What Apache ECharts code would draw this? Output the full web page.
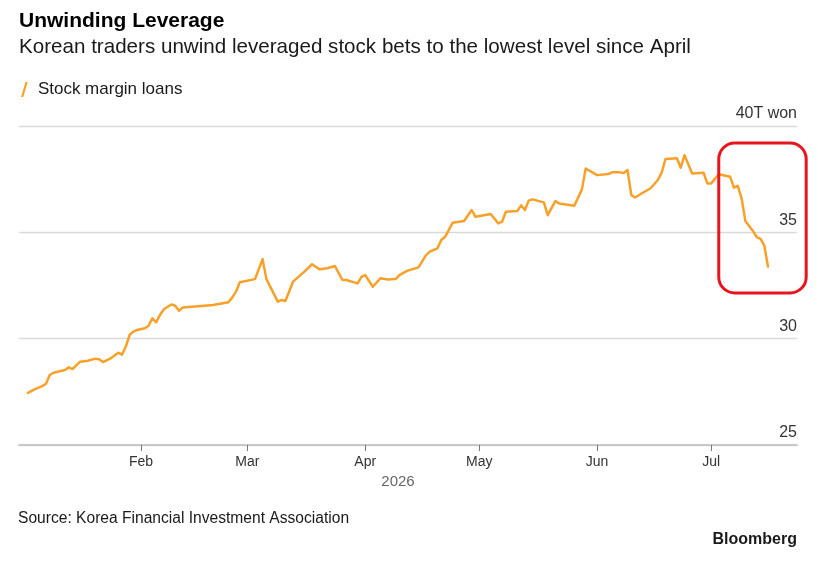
<!DOCTYPE html>
<html>
<head>
<meta charset="utf-8">
<script src="https://cdn.jsdelivr.net/npm/echarts@6/dist/echarts.min.js"></script>
<style>
html,body{margin:0;padding:0;background:#fff;}
#chart{width:818px;height:567px;}
</style>
</head>
<body>
<div id="chart"></div>
<script>
// ---- data ----
const dates = [
  '2026-01-02','2026-01-04','2026-01-06','2026-01-07','2026-01-08','2026-01-09','2026-01-12','2026-01-13','2026-01-14','2026-01-16',
  '2026-01-18','2026-01-20','2026-01-21','2026-01-22','2026-01-24','2026-01-26','2026-01-27','2026-01-28','2026-01-29','2026-01-30',
  '2026-01-31','2026-02-02','2026-02-03','2026-02-04','2026-02-05','2026-02-06','2026-02-07','2026-02-09','2026-02-10','2026-02-11',
  '2026-02-12','2026-02-20','2026-02-24','2026-02-25','2026-02-26','2026-02-27','2026-03-03','2026-03-05','2026-03-06','2026-03-09',
  '2026-03-10','2026-03-11','2026-03-13','2026-03-16','2026-03-18','2026-03-20','2026-03-22','2026-03-24','2026-03-26','2026-03-27',
  '2026-03-30','2026-03-31','2026-04-01','2026-04-03','2026-04-05','2026-04-07','2026-04-09','2026-04-10','2026-04-12','2026-04-15',
  '2026-04-17','2026-04-18','2026-04-20','2026-04-21','2026-04-22','2026-04-24','2026-04-27','2026-04-29','2026-04-30','2026-05-04',
  '2026-05-06','2026-05-07','2026-05-08','2026-05-11','2026-05-12','2026-05-13','2026-05-14','2026-05-15','2026-05-18','2026-05-19',
  '2026-05-21','2026-05-22','2026-05-26','2026-05-28','2026-05-29','2026-06-01','2026-06-04','2026-06-05','2026-06-07','2026-06-08',
  '2026-06-09','2026-06-10','2026-06-11','2026-06-13','2026-06-15','2026-06-17','2026-06-18','2026-06-19','2026-06-22','2026-06-23',
  '2026-06-24','2026-06-26','2026-06-29','2026-06-30','2026-07-01','2026-07-03','2026-07-06','2026-07-07','2026-07-08','2026-07-09',
  '2026-07-10','2026-07-12','2026-07-13','2026-07-14','2026-07-15','2026-07-16'
];
const marginLoans = [
  27.43,27.62,27.77,27.87,28.29,28.40,28.53,28.65,28.57,28.92,
  28.96,29.06,29.03,28.90,29.07,29.34,29.25,29.62,30.17,30.33,
  30.41,30.49,30.61,30.96,30.77,31.11,31.38,31.61,31.55,31.31,
  31.47,31.58,31.71,31.93,32.21,32.65,32.80,33.74,32.80,31.74,
  31.82,31.77,32.68,33.15,33.50,33.26,33.31,33.42,32.76,32.76,
  32.60,32.91,32.99,32.44,32.84,32.78,32.80,32.99,33.19,33.35,
  33.93,34.09,34.25,34.64,34.79,35.45,35.53,36.05,35.73,35.86,
  35.42,35.50,35.97,36.00,36.27,36.05,36.49,36.55,36.41,35.81,
  36.47,36.36,36.25,37.02,38.00,37.69,37.74,37.83,37.82,37.79,
  37.93,36.75,36.64,36.86,37.06,37.46,37.82,38.45,38.48,38.04,
  38.63,37.77,37.80,37.30,37.30,37.73,37.61,37.10,37.19,36.60,
  35.53,35.06,34.78,34.69,34.37,33.34
];
const tickDates = ['2026-02-01','2026-03-01','2026-04-01','2026-05-01','2026-06-01','2026-07-01'];
const tickLabels = ['Feb','Mar','Apr','May','Jun','Jul'];
const yTicks = [25, 30, 35, 40];
const axisStart = '2025-12-30 22:00';
const axisEnd = '2026-07-23 14:00';
const seriesName = 'Stock margin loans';
// highlight box (annotation) corners in data space: [date, value]
const highlightFrom = ['2026-07-03', 39.2];
const highlightTo = ['2026-07-26', 32.15];

// ---- chart ----
const ts = s => +echarts.time.parse(s);
const tickTs = tickDates.map(ts);
const seriesData = dates.map((d, i) => [ts(d), marginLoans[i]]);
const FONT = '"Liberation Sans", Arial, sans-serif';

const chart = echarts.init(document.getElementById('chart'), null, {renderer: 'canvas'});
chart.setOption({
  backgroundColor: '#fff',
  animation: false,
  textStyle: {fontFamily: FONT},
  title: [
    {text: 'Unwinding Leverage', left: 14, top: 6,
     textStyle: {fontFamily: FONT, fontSize: 21, fontWeight: 'bold', color: '#000'}},
    {text: 'Korean traders unwind leveraged stock bets to the lowest level since April', left: 14, top: 32,
     textStyle: {fontFamily: FONT, fontSize: 20.6, fontWeight: 'normal', color: '#1a1a1a'}}
  ],
  legend: {
    left: 16, top: 76, itemWidth: 9, itemHeight: 15, itemGap: 10,
    icon: 'path://M0,20 L6,0 L9,0 L3,20 Z',
    textStyle: {fontFamily: FONT, fontSize: 17, color: '#1a1a1a', padding: [0,0,0,4]},
    data: [seriesName]
  },
  grid: {left: 19, right: 21, top: 126, bottom: 122, containLabel: false},
  xAxis: {
    type: 'value',
    min: ts(axisStart), max: ts(axisEnd),
    axisLine: {show: true, lineStyle: {color: '#c8c8c8', width: 1.8}},
    axisTick: {show: true, customValues: tickTs, length: 6, lineStyle: {color: '#777', width: 1}},
    axisLabel: {
      customValues: tickTs, margin: 10, fontSize: 14, color: '#333', fontFamily: FONT,
      formatter: v => { const i = tickTs.indexOf(v); return i >= 0 ? tickLabels[i] : ''; }
    },
    splitLine: {show: false}
  },
  yAxis: {
    type: 'value', position: 'right',
    min: yTicks[0], max: yTicks[yTicks.length - 1], interval: 5,
    axisLine: {show: false}, axisTick: {show: false},
    splitLine: {show: true, lineStyle: {color: '#d9d9d9', width: 1.3}},
    axisLabel: {
      inside: true, margin: 0, align: 'right', verticalAlign: 'bottom',
      padding: [0, 0, 4, 0], fontSize: 16, color: '#333', fontFamily: FONT,
      formatter: v => v === 40 ? '40T won' : String(v)
    }
  },
  series: [{
    name: seriesName, type: 'line', data: seriesData,
    showSymbol: false, symbol: 'none',
    lineStyle: {color: '#F7A02A', width: 2.5, join: 'round'},
    itemStyle: {color: '#F7A02A'}
  }],
  graphic: [
    {type: 'text', x: 398, y: 474, style: {text: '2026', font: '15px ' + FONT, fill: '#666', align: 'center'}},
    {type: 'text', left: 18, top: 511, style: {text: 'Source: Korea Financial Investment Association', font: '15.6px ' + FONT, fill: '#1a1a1a'}},
    {type: 'text', right: 21, top: 532, style: {text: 'Bloomberg', font: 'bold 16px ' + FONT, fill: '#1a1a1a'}}
  ]
});

// red highlight box positioned through the chart's own scales
const p1 = chart.convertToPixel({gridIndex: 0}, [ts(highlightFrom[0]), highlightFrom[1]]);
const p2 = chart.convertToPixel({gridIndex: 0}, [ts(highlightTo[0]), highlightTo[1]]);
chart.setOption({
  graphic: [
    {type: 'text', x: 398, y: 474, style: {text: '2026', font: '15px ' + FONT, fill: '#666', align: 'center'}},
    {type: 'text', left: 18, top: 511, style: {text: 'Source: Korea Financial Investment Association', font: '15.6px ' + FONT, fill: '#1a1a1a'}},
    {type: 'text', right: 21, top: 532, style: {text: 'Bloomberg', font: 'bold 16px ' + FONT, fill: '#1a1a1a'}},
    {type: 'rect', z: 100,
     shape: {x: p1[0], y: p1[1], width: p2[0] - p1[0], height: p2[1] - p1[1], r: 16},
     style: {fill: 'none', stroke: '#E8141E', lineWidth: 3}}
  ]
}, {replaceMerge: ['graphic']});
</script>
</body>
</html>
